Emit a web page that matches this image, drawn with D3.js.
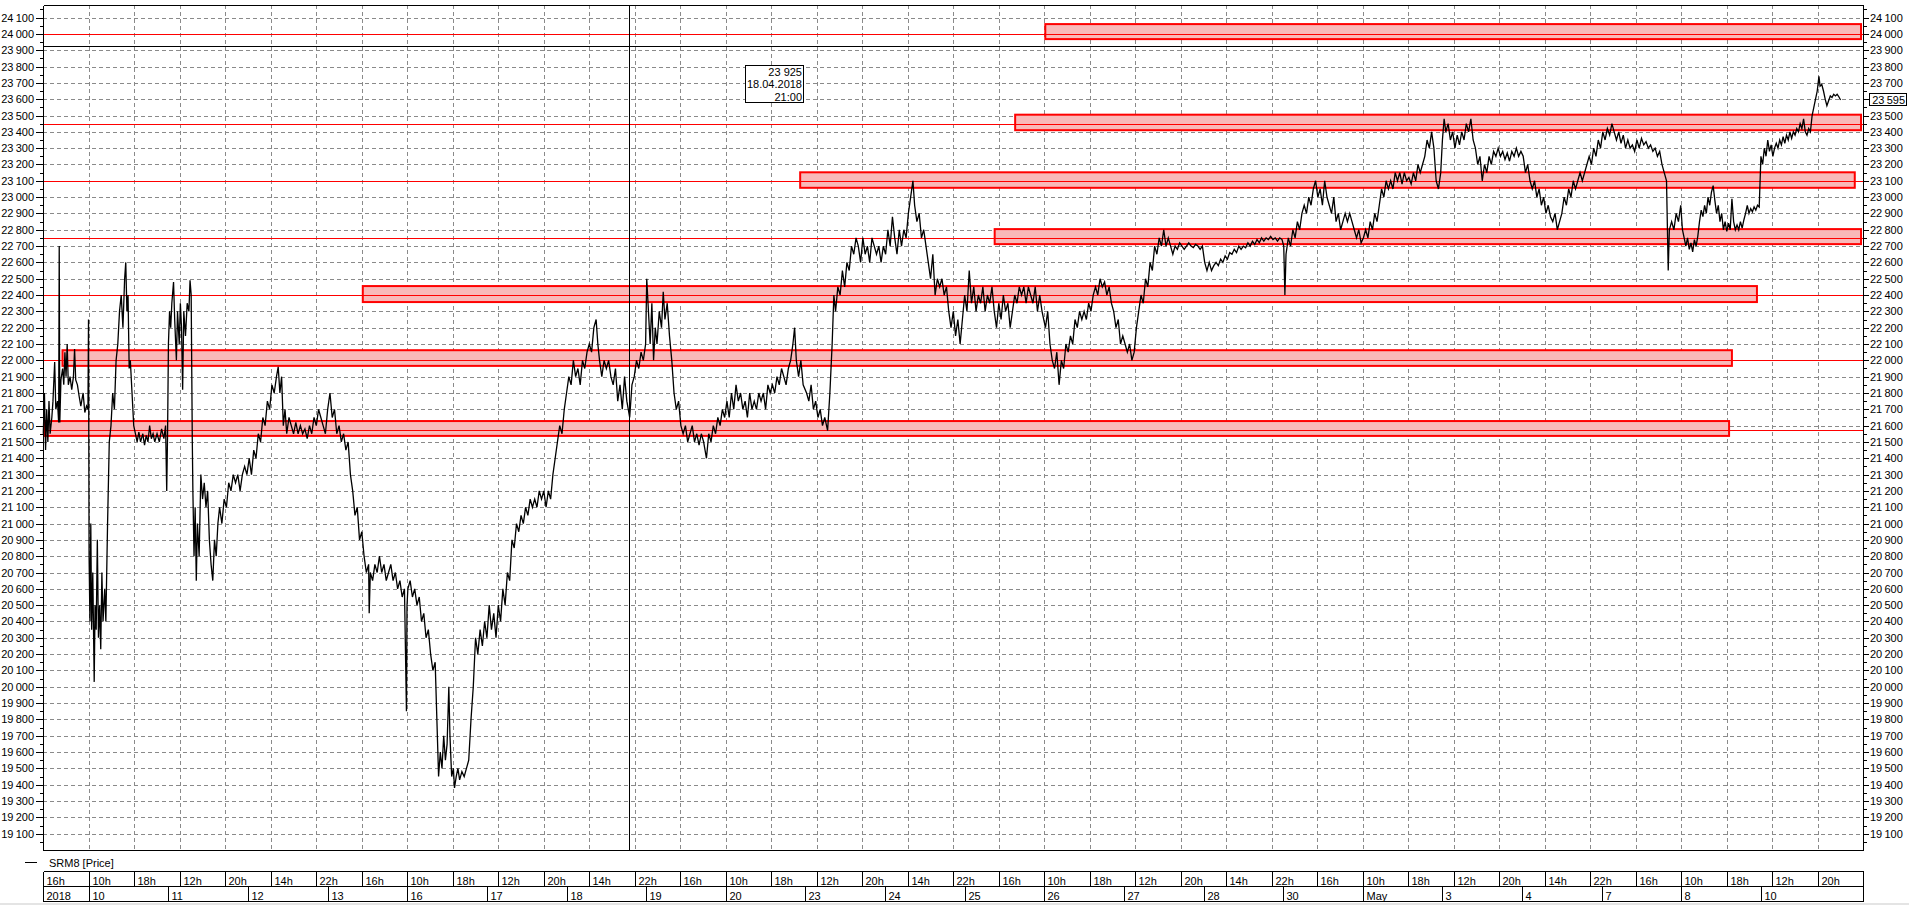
<!DOCTYPE html>
<html><head><meta charset="utf-8">
<script src="https://cdn.jsdelivr.net/npm/d3@7"></script>
<style>
html,body{margin:0;padding:0;background:#fff;overflow:hidden}
svg{display:block}
text{font-family:"Liberation Sans",Arial,sans-serif;font-size:11px;fill:#000}
</style></head><body>
<svg id="chart" width="1909" height="905"></svg>
<script>
// ---------------- DATA ----------------
const seriesName = "SRM8 [Price]";
// x is trading time in hours since 09.04.2018 16:00 (session 10:00-24:00, 8h per grid cell)
const hourTickLabels = ["16h","10h","18h","12h","20h","14h","22h","16h","10h","18h","12h","20h","14h","22h",
  "16h","10h","18h","12h","20h","14h","22h","16h","10h","18h","12h","20h","14h","22h",
  "16h","10h","18h","12h","20h","14h","22h","16h","10h","18h","12h","20h"];
const dayTickLabels = ["2018","10","11","12","13","16","17","18","19","20","23","24","25","26","27","28","30","May","3","4","7","8","10"];
const dayTickHours  = [0,8,22,36,50,64,78,92,106,120,134,148,162,176,190,204,218,232,246,260,274,288,302];
const yTickValues = d3.range(19100, 24101, 100);
const yMinorValues = d3.range(19050, 24151, 100);

// support / resistance zones
const zoneLevel = [24000, 23450, 23100, 22750, 22400, 22000, 21575];
const zoneLow   = [23968, 23410, 23057, 22712, 22357, 21966, 21537];
const zoneHigh  = [24060, 23505, 23152, 22804, 22455, 22062, 21628];
const zoneStart = [176, 170.7, 132.9, 167.1, 56.0, 3.2, 0];
const zoneEnd   = [319.6, 319.6, 318.5, 319.6, 301.3, 296.9, 296.4];

const crosshairHour = 103, crosshairValue = 23925;
const crosshairText = ["23 925", "18.04.2018", "21:00"];

const pricePoints = [
[0,21550],[0.2,21800],[0.4,21450],[0.6,21700],[0.8,21500],[1.0,21750],[1.2,21550],[1.5,21650],[1.7,21750],[2.0,21990],[2.2,21700],[2.5,21750],[2.7,21620],[2.8,22700],[2.9,21620],[3.1,21880],[3.4,21950],[3.6,21850],[3.8,22050],[4.0,21900],[4.2,22100],[4.4,21850],[4.7,21900],[5.0,21820],[5.3,21900],[5.5,22070],[5.7,21880],[6.0,21850],[6.3,21780],[6.6,21720],[7.0,21800],[7.3,21680],[7.6,21720],[7.85,21700],
[7.95,22250],[8.05,20800],[8.2,20400],[8.35,21000],[8.5,20350],[8.7,20700],[8.95,20030],[9.1,20500],[9.3,20350],[9.5,20900],[9.7,20300],[9.9,20500],[10.1,20230],[10.3,20700],[10.5,20400],[10.8,20600],[11.0,20400],[11.3,21000],[11.6,21500],[11.9,21600],[12.2,21800],[12.5,21700],[12.8,22000],[13.1,22100],[13.4,22300],[13.7,22400],[14.0,22200],[14.3,22500],[14.5,22600],[14.7,22300],[14.9,22400],[15.1,21950],[15.3,22000],[15.6,21800],[15.9,21600],[16.2,21550],[16.5,21500],[16.8,21560],[17.1,21500],[17.5,21550],[17.8,21480],[18.1,21540],[18.4,21500],[18.7,21600],[19.0,21520],[19.3,21550],[19.6,21500],[20.0,21550],[20.4,21500],[20.8,21580],[21.2,21520],[21.5,21600],[21.7,21200],[21.85,21550],
[22.0,22100],[22.2,22300],[22.4,22200],[22.6,22350],[22.9,22480],[23.1,22250],[23.4,22000],[23.6,22300],[23.9,22100],[24.1,22350],[24.3,22200],[24.5,21820],[24.7,22300],[25.0,22150],[25.3,22350],[25.6,22300],[25.8,22490],[26.0,22400],[26.2,21500],[26.3,21200],[26.5,20800],[26.7,21100],[26.9,20650],[27.1,21000],[27.4,20800],[27.7,21300],[28.0,21150],[28.3,21250],[28.6,21100],[28.9,21200],[29.2,20900],[29.5,20750],[29.8,20650],[30.1,20900],[30.4,20800],[30.7,21000],[31.0,21100],[31.4,21000],[31.8,21150],[32.2,21100],[32.6,21250],[33.0,21200],[33.4,21300],[33.8,21250],[34.2,21300],[34.6,21200],[35.0,21300],[35.4,21350],[35.8,21300],
[36.2,21400],[36.6,21300],[37.0,21450],[37.4,21400],[37.8,21550],[38.2,21500],[38.6,21650],[39.0,21600],[39.4,21750],[39.8,21700],[40.2,21850],[40.6,21800],[41.0,21900],[41.3,21960],[41.6,21800],[41.9,21900],[42.2,21600],[42.5,21700],[42.8,21550],[43.2,21650],[43.6,21600],[44.0,21550],[44.4,21620],[44.8,21550],[45.2,21600],[45.6,21550],[46.0,21580],[46.4,21520],[46.8,21600],[47.2,21550],[47.6,21650],[48.0,21600],[48.4,21700],[48.8,21650],[49.2,21600],[49.6,21550],
[50.0,21700],[50.4,21800],[50.8,21650],[51.2,21700],[51.6,21550],[52.0,21600],[52.4,21500],[52.8,21550],[53.2,21450],[53.6,21500],[54.0,21300],[54.4,21200],[54.8,21050],[55.2,21100],[55.6,20900],[56.0,20950],[56.4,20800],[56.8,20700],[57.2,20750],[57.3,20450],[57.5,20700],[57.9,20650],[58.3,20750],[58.7,20700],[59.1,20800],[59.5,20700],[59.9,20750],[60.3,20650],[60.7,20700],[61.1,20750],[61.5,20650],[61.9,20700],[62.3,20600],[62.7,20650],[63.1,20550],[63.5,20600],[63.85,19850],[63.95,20500],
[64.1,20600],[64.5,20650],[64.9,20550],[65.3,20600],[65.7,20500],[66.1,20550],[66.5,20400],[66.9,20450],[67.3,20300],[67.7,20350],[68.1,20200],[68.5,20100],[68.9,20150],[69.2,19800],[69.5,19450],[69.8,19600],[70.1,19500],[70.4,19700],[70.7,19550],[71.0,19650],[71.3,20000],[71.5,19700],[71.8,19450],[72.1,19500],[72.3,19380],[72.6,19450],[72.9,19500],[73.2,19430],[73.6,19480],[74.0,19450],[74.4,19500],[74.8,19550],[75.2,19800],[75.6,20000],[76.0,20300],[76.4,20200],[76.8,20350],[77.2,20250],[77.6,20400],
[78.0,20300],[78.4,20500],[78.8,20350],[79.2,20450],[79.6,20300],[80.0,20500],[80.4,20400],[80.8,20600],[81.2,20500],[81.6,20700],[82.0,20650],[82.4,20900],[82.8,20850],[83.2,21000],[83.6,20950],[84.0,21050],[84.4,21000],[84.8,21100],[85.2,21050],[85.6,21150],[86.0,21100],[86.4,21150],[86.8,21100],[87.2,21200],[87.6,21150],[88.0,21200],[88.4,21100],[88.8,21200],[89.2,21150],[89.6,21300],[90.0,21400],[90.4,21500],[90.8,21600],[91.2,21550],[91.6,21700],
[92.0,21800],[92.4,21900],[92.8,21850],[93.2,22000],[93.6,21900],[94.0,21950],[94.4,21850],[94.8,22000],[95.2,21950],[95.6,22050],[96.0,22100],[96.4,22050],[96.8,22200],[97.2,22250],[97.5,22100],[97.8,22000],[98.2,21900],[98.6,22000],[99.0,21950],[99.4,22000],[99.8,21900],[100.2,21850],[100.6,21950],[101.0,21750],[101.4,21850],[101.8,21700],[102.2,21900],[102.6,21750],[103.1,21650],[103.5,21850],[103.9,21900],[104.3,22000],[104.7,21950],[105.1,22050],[105.5,22000],[105.9,22100],
[106.1,22500],[106.4,22300],[106.7,22100],[107.0,22350],[107.3,22000],[107.6,22200],[107.9,22100],[108.3,22300],[108.7,22200],[109.0,22420],[109.3,22250],[109.7,22350],[110.1,22150],[110.5,22000],[110.9,21800],[111.3,21700],[111.7,21750],[112.1,21600],[112.5,21550],[112.9,21600],[113.3,21500],[113.7,21550],[114.1,21600],[114.5,21500],[114.9,21550],[115.3,21480],[115.7,21550],[116.1,21500],[116.6,21400],[117.0,21550],[117.4,21500],[117.8,21600],[118.2,21550],[118.6,21650],[119.0,21600],[119.4,21700],[119.8,21650],
[120.2,21750],[120.6,21650],[121.0,21800],[121.4,21700],[121.8,21850],[122.2,21750],[122.6,21800],[123.0,21700],[123.4,21750],[123.8,21650],[124.2,21800],[124.6,21700],[125.0,21750],[125.4,21700],[125.8,21800],[126.2,21750],[126.6,21800],[127.0,21700],[127.4,21850],[127.8,21800],[128.2,21850],[128.6,21800],[129.0,21900],[129.4,21850],[129.8,21950],[130.2,21900],[130.6,21850],[131.0,21950],[131.4,22000],[131.8,22100],[132.1,22200],[132.4,22000],[132.8,21900],[133.2,22000],[133.6,21850],
[134.2,21800],[134.6,21750],[135.0,21850],[135.4,21700],[135.8,21750],[136.2,21650],[136.6,21700],[137.0,21600],[137.4,21650],[137.9,21570],[138.3,21800],[138.7,22100],[139.0,22400],[139.3,22300],[139.7,22450],[140.1,22400],[140.5,22550],[140.9,22450],[141.3,22600],[141.7,22550],[142.1,22700],[142.5,22650],[142.9,22750],[143.3,22700],[143.7,22600],[144.1,22750],[144.5,22650],[144.9,22700],[145.3,22600],[145.7,22750],[146.1,22700],[146.5,22650],[146.9,22700],[147.3,22600],[147.7,22700],
[148.1,22650],[148.5,22800],[148.9,22700],[149.3,22880],[149.7,22750],[150.1,22650],[150.5,22800],[150.9,22700],[151.3,22800],[151.7,22750],[152.1,22900],[152.5,23000],[152.9,23100],[153.2,22950],[153.6,22850],[154.0,22900],[154.4,22750],[154.8,22800],[155.2,22700],[155.6,22600],[156.0,22500],[156.4,22650],[156.8,22400],[157.2,22500],[157.6,22450],[158.0,22500],[158.4,22400],[158.8,22450],[159.2,22300],[159.6,22200],[160.0,22300],[160.4,22150],[160.8,22250],[161.2,22100],[161.6,22250],
[162.0,22400],[162.4,22300],[162.8,22550],[163.2,22350],[163.6,22450],[164.0,22300],[164.4,22400],[164.8,22350],[165.2,22450],[165.6,22300],[166.0,22400],[166.4,22350],[166.8,22450],[167.2,22300],[167.6,22200],[168.0,22350],[168.4,22250],[168.8,22400],[169.2,22300],[169.6,22350],[170.0,22200],[170.4,22300],[170.8,22400],[171.2,22350],[171.6,22450],[172.0,22400],[172.4,22450],[172.8,22350],[173.2,22450],[173.6,22400],[174.0,22350],[174.4,22450],[174.8,22300],[175.2,22400],[175.6,22300],
[176.2,22200],[176.6,22300],[177.0,22100],[177.4,22000],[177.8,21950],[178.2,22050],[178.6,21850],[179.0,22000],[179.4,21950],[179.8,22100],[180.2,22050],[180.6,22150],[181.0,22100],[181.4,22250],[181.8,22200],[182.2,22300],[182.6,22250],[183.0,22300],[183.4,22250],[183.8,22350],[184.2,22300],[184.6,22400],[185.0,22450],[185.4,22400],[185.8,22500],[186.2,22450],[186.6,22480],[187.0,22400],[187.4,22450],[187.8,22350],[188.2,22300],[188.6,22200],[189.0,22250],[189.4,22100],[189.8,22150],
[190.2,22100],[190.6,22050],[191.0,22100],[191.4,22000],[191.8,22050],[192.2,22200],[192.6,22300],[193.0,22400],[193.4,22350],[193.8,22500],[194.2,22450],[194.6,22600],[195.0,22550],[195.4,22700],[195.8,22650],[196.2,22750],[196.6,22700],[197.0,22800],[197.4,22700],[197.8,22750],[198.2,22700],[198.6,22650],[199.0,22700],[199.4,22680],[199.8,22720],[200.2,22700],[200.6,22680],[201.0,22700],[201.4,22720],[201.8,22700],[202.2,22690],[202.6,22710],[203.0,22700],[203.4,22680],[203.8,22700],
[204.2,22600],[204.6,22550],[205.0,22600],[205.4,22550],[205.8,22580],[206.2,22600],[206.6,22580],[207.0,22620],[207.4,22600],[207.8,22640],[208.2,22620],[208.6,22660],[209.0,22650],[209.4,22680],[209.8,22660],[210.2,22700],[210.6,22680],[211.0,22700],[211.4,22690],[211.8,22720],[212.2,22700],[212.6,22730],[213.0,22710],[213.4,22740],[213.8,22720],[214.2,22750],[214.6,22730],[215.0,22750],[215.4,22740],[215.8,22760],[216.2,22740],[216.6,22750],[217.0,22730],[217.4,22750],[217.8,22740],
[218.1,22700],[218.3,22400],[218.5,22650],[218.9,22750],[219.3,22700],[219.7,22800],[220.1,22750],[220.5,22850],[220.9,22800],[221.3,22900],[221.7,22950],[222.1,22900],[222.5,23000],[222.9,22950],[223.3,23050],[223.7,23100],[224.1,23000],[224.5,23050],[224.9,22950],[225.3,23100],[225.7,23000],[226.1,22950],[226.5,22900],[226.9,23000],[227.3,22850],[227.7,22900],[228.1,22800],[228.5,22850],[228.9,22900],[229.3,22850],[229.7,22900],[230.1,22850],[230.5,22800],[230.9,22750],[231.3,22800],[231.7,22720],
[232.1,22750],[232.5,22800],[232.9,22750],[233.3,22850],[233.7,22800],[234.1,22900],[234.5,22850],[234.9,22950],[235.3,23050],[235.7,23000],[236.1,23100],[236.5,23050],[236.9,23100],[237.3,23050],[237.7,23150],[238.1,23100],[238.5,23150],[238.9,23080],[239.3,23150],[239.7,23100],[240.1,23120],[240.5,23080],[240.9,23150],[241.3,23100],[241.7,23200],[242.1,23150],[242.5,23200],[242.9,23250],[243.3,23350],[243.7,23300],[244.1,23400],[244.5,23300],[244.9,23100],[245.3,23050],[245.7,23150],
[246.0,23350],[246.3,23480],[246.6,23400],[247.0,23450],[247.4,23350],[247.8,23400],[248.2,23300],[248.6,23380],[249.0,23320],[249.4,23400],[249.8,23350],[250.2,23450],[250.6,23400],[251.0,23480],[251.4,23350],[251.8,23300],[252.2,23200],[252.6,23250],[253.0,23100],[253.4,23200],[253.8,23150],[254.2,23250],[254.6,23200],[255.0,23280],[255.4,23250],[255.8,23300],[256.2,23250],[256.6,23280],[257.0,23230],[257.4,23270],[257.8,23220],[258.2,23280],[258.6,23250],[259.0,23300],[259.4,23250],[259.8,23280],
[260.2,23250],[260.6,23150],[261.0,23200],[261.4,23100],[261.8,23050],[262.2,23100],[262.6,23000],[263.0,23050],[263.4,22950],[263.8,23000],[264.2,22900],[264.6,22950],[265.0,22880],[265.4,22850],[265.8,22900],[266.2,22800],[266.6,22850],[267.0,22900],[267.4,23000],[267.8,22950],[268.2,23050],[268.6,23000],[269.0,23100],[269.4,23050],[269.8,23100],[270.2,23150],[270.6,23100],[271.0,23150],[271.4,23200],[271.8,23250],[272.2,23200],[272.6,23300],[273.0,23250],[273.4,23350],[273.8,23300],
[274.2,23400],[274.6,23350],[275.0,23420],[275.4,23380],[275.8,23450],[276.2,23400],[276.6,23350],[277.0,23400],[277.4,23330],[277.8,23380],[278.2,23300],[278.6,23350],[279.0,23300],[279.4,23320],[279.8,23280],[280.2,23350],[280.6,23300],[281.0,23360],[281.4,23320],[281.8,23340],[282.2,23300],[282.6,23320],[283.0,23280],[283.4,23300],[283.8,23250],[284.2,23280],[284.6,23200],[285.0,23150],[285.4,23100],[285.7,22550],[285.9,22800],[286.3,22850],[286.7,22800],[287.1,22900],[287.5,22850],[287.9,22950],
[288.2,22800],[288.5,22750],[288.8,22700],[289.1,22750],[289.4,22680],[289.7,22720],[290.0,22665],[290.3,22740],[290.6,22700],[290.9,22760],[291.2,22850],[291.5,22920],[291.8,22880],[292.1,22950],[292.4,22900],[292.7,23000],[293.0,22950],[293.3,23030],[293.6,23070],[293.9,22980],[294.2,22900],[294.5,22950],[294.8,22850],[295.1,22900],[295.4,22800],[295.7,22850],[296.0,22790],[296.3,22840],[296.6,22800],[296.9,22990],[297.2,22850],[297.5,22800],[297.8,22830],[298.1,22800],[298.4,22850],[298.7,22810],[299.0,22860],[299.3,22900],[299.6,22950],[299.9,22900],[300.2,22930],[300.5,22910],[300.8,22940],[301.1,22920],[301.4,22950],[301.7,22940],
[302.0,23250],[302.3,23200],[302.6,23300],[302.9,23250],[303.2,23350],[303.5,23280],[303.8,23320],[304.1,23250],[304.4,23300],[304.7,23330],[305.0,23300],[305.3,23350],[305.6,23320],[305.9,23370],[306.2,23330],[306.5,23380],[306.8,23350],[307.1,23400],[307.4,23360],[307.7,23400],[308.0,23380],[308.3,23420],[308.6,23400],[308.9,23450],[309.2,23420],[309.5,23480],[309.8,23400],[310.1,23380],[310.4,23420],[310.7,23400],[311.0,23500],[311.3,23550],[311.6,23600],[311.9,23650],[312.2,23740],[312.4,23680],[312.7,23690],[313.0,23650],[313.3,23600],[313.6,23560],[313.9,23590],[314.2,23620],[314.5,23610],[314.8,23630],[315.1,23620],[315.4,23630],[315.7,23615],[316.0,23595]
];

// ---------------- DRAW ----------------
const plot = {left:43.3, right:1863.3, top:5, bottom:850};
const x = d3.scaleLinear().domain([0, 320]).range([plot.left, plot.right]);
const y = d3.scaleLinear().domain([19000, 24177]).range([plot.bottom, plot.top]);
const px = v => Math.round(v) + 0.5;
const fmt = v => { const s = String(Math.round(v)); return s.slice(0, s.length-3) + "\u2009" + s.slice(-3); };

const svg = d3.select("#chart");
svg.append("rect").attr("width",1909).attr("height",905).attr("fill","#fff");

// grid
const grid = svg.append("g").attr("stroke","#8a8a8a").attr("stroke-width",1).attr("stroke-dasharray","4,3").attr("shape-rendering","crispEdges");
grid.selectAll("line.h").data(yTickValues).join("line").attr("class","h")
  .attr("x1",plot.left).attr("x2",plot.right).attr("y1",d=>px(y(d))).attr("y2",d=>px(y(d)));
grid.selectAll("line.v").data(d3.range(8, 320, 8)).join("line").attr("class","v")
  .attr("y1",plot.top).attr("y2",plot.bottom).attr("x1",d=>px(x(d))).attr("x2",d=>px(x(d)));

// zones
const zoneIdx = d3.range(zoneLevel.length);
svg.append("g").selectAll("rect").data(zoneIdx).join("rect")
  .attr("x",i=>x(zoneStart[i])+1).attr("width",i=>x(zoneEnd[i])-x(zoneStart[i])-1)
  .attr("y",i=>y(zoneHigh[i])).attr("height",i=>y(zoneLow[i])-y(zoneHigh[i]))
  .attr("fill","#f9b9b9").attr("stroke","#ff0000").attr("stroke-width",2);
svg.append("g").attr("shape-rendering","crispEdges").selectAll("line").data(zoneIdx).join("line")
  .attr("x1",plot.left).attr("x2",plot.right)
  .attr("y1",i=>px(y(zoneLevel[i]))).attr("y2",i=>px(y(zoneLevel[i])))
  .attr("stroke","#ff0000").attr("stroke-width",1);

// price line
svg.append("path").datum(pricePoints)
  .attr("d", d3.line().x(d=>x(d[0])).y(d=>y(d[1])))
  .attr("fill","none").attr("stroke","#000").attr("stroke-width",1.3).attr("stroke-linejoin","miter");

// crosshair
const ch = svg.append("g").attr("stroke","#000").attr("stroke-width",1).attr("shape-rendering","crispEdges");
ch.append("line").attr("x1",px(x(crosshairHour))).attr("x2",px(x(crosshairHour))).attr("y1",plot.top).attr("y2",plot.bottom);
ch.append("line").attr("x1",plot.left).attr("x2",plot.right).attr("y1",px(y(crosshairValue))).attr("y2",px(y(crosshairValue)));

// tooltip
const tip = svg.append("g");
tip.append("rect").attr("x",745.5).attr("y",65.5).attr("width",58).attr("height",37)
  .attr("fill","#fff").attr("stroke","#000").attr("shape-rendering","crispEdges");
tip.selectAll("text").data(crosshairText).join("text")
  .attr("x",802).attr("y",(d,i)=>75.5+i*12.5).attr("text-anchor","end").text(d=>d);

// frame
const frame = svg.append("g").attr("stroke","#000").attr("stroke-width",1).attr("shape-rendering","crispEdges").attr("fill","none");
frame.append("line").attr("x1",px(plot.left)).attr("x2",px(plot.right)).attr("y1",px(plot.top)).attr("y2",px(plot.top));
frame.append("line").attr("x1",px(plot.left)).attr("x2",px(plot.right)).attr("y1",px(plot.bottom)).attr("y2",px(plot.bottom));
frame.append("line").attr("x1",px(plot.left)).attr("x2",px(plot.left)).attr("y1",px(plot.top)).attr("y2",px(plot.bottom));
frame.append("line").attr("x1",px(plot.right)).attr("x2",px(plot.right)).attr("y1",px(plot.top)).attr("y2",px(plot.bottom));

// y ticks both sides
const ticks = svg.append("g").attr("stroke","#000").attr("shape-rendering","crispEdges");
yTickValues.forEach(v=>{
  const yy = px(y(v));
  ticks.append("line").attr("x1",px(plot.left)-8).attr("x2",px(plot.left)).attr("y1",yy).attr("y2",yy);
  ticks.append("line").attr("x1",px(plot.right)).attr("x2",px(plot.right)+5).attr("y1",yy).attr("y2",yy);
});
yMinorValues.forEach(v=>{
  const yy = px(y(v));
  ticks.append("line").attr("x1",px(plot.left)-4).attr("x2",px(plot.left)).attr("y1",yy).attr("y2",yy);
  ticks.append("line").attr("x1",px(plot.right)).attr("x2",px(plot.right)+3).attr("y1",yy).attr("y2",yy);
});
const lab = svg.append("g");
lab.selectAll("text.l").data(yTickValues).join("text").attr("class","l")
  .attr("x",34).attr("y",d=>y(d)+4).attr("text-anchor","end").text(fmt);
lab.selectAll("text.r").data(yTickValues).join("text").attr("class","r")
  .attr("x",1870).attr("y",d=>y(d)+4).text(fmt);

// last price marker
const last = pricePoints[pricePoints.length-1][1];
svg.append("rect").attr("x",1869.5).attr("y",Math.round(y(last))-6.5).attr("width",37).attr("height",12)
  .attr("fill","#fff").attr("stroke","#000").attr("shape-rendering","crispEdges");
svg.append("text").attr("x",1905).attr("y",y(last)+4).attr("text-anchor","end").text(fmt(last));

// legend
svg.append("line").attr("x1",25).attr("x2",37).attr("y1",862.5).attr("y2",862.5).attr("stroke","#000").attr("shape-rendering","crispEdges");
svg.append("text").attr("x",49).attr("y",866.5).text(seriesName);

// time axis table
const tb = svg.append("g").attr("stroke","#000").attr("shape-rendering","crispEdges").attr("fill","none");
const r1 = 871.5, r2 = 886.5, r3 = 901.5;
tb.append("line").attr("x1",px(plot.left)).attr("x2",px(plot.right)).attr("y1",r1).attr("y2",r1);
tb.append("line").attr("x1",px(plot.left)).attr("x2",px(plot.right)).attr("y1",r2).attr("y2",r2);
tb.append("line").attr("x1",px(plot.left)).attr("x2",px(plot.right)).attr("y1",r3).attr("y2",r3);
tb.append("line").attr("x1",px(plot.right)).attr("x2",px(plot.right)).attr("y1",r1).attr("y2",r3);
hourTickLabels.forEach((t,k)=>{
  const xx = px(x(k*8));
  tb.append("line").attr("x1",xx).attr("x2",xx).attr("y1",r1).attr("y2",r2);
  svg.append("text").attr("x",xx+3).attr("y",r2-1.5).text(t);
});
dayTickLabels.forEach((t,k)=>{
  const xx = px(x(dayTickHours[k]));
  tb.append("line").attr("x1",xx).attr("x2",xx).attr("y1",r2).attr("y2",r3);
  svg.append("text").attr("x",xx+3).attr("y",r3-2).text(t);
});
svg.append("rect").attr("x",0).attr("y",903).attr("width",1909).attr("height",2).attr("fill","#e4e4e4");
</script>
</body></html>
